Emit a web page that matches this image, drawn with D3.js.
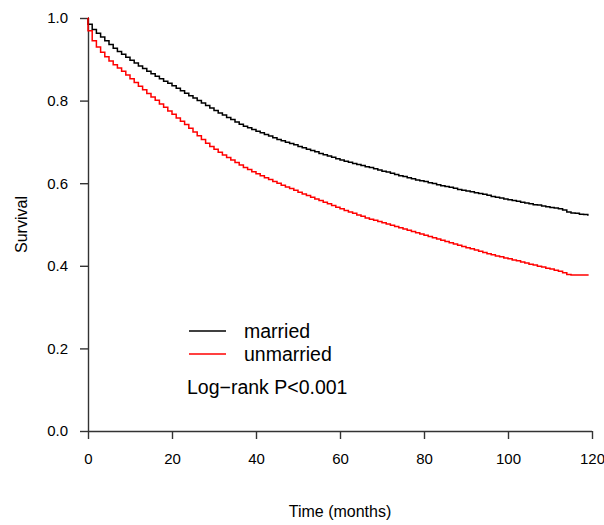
<!DOCTYPE html>
<html><head><meta charset="utf-8">
<script src="https://cdn.jsdelivr.net/npm/d3@7"></script>
<style>body{margin:0;background:#fff}svg{display:block}text{font-family:"Liberation Sans",Arial,sans-serif;fill:#000}</style>
</head><body>
<script>
// months 0..119, survival in interval [t, t+1)
const months = d3.range(0, 120);
const married = [0.985,0.972,0.963,0.954,0.945,0.936,0.927,0.919,0.912,0.905,
0.898,0.891,0.884,0.878,0.871,0.865,0.859,0.853,0.847,0.842,
0.836,0.830,0.824,0.818,0.812,0.806,0.800,0.794,0.788,0.782,
0.776,0.770,0.765,0.759,0.754,0.748,0.743,0.738,0.734,0.730,
0.726,0.722,0.718,0.714,0.710,0.706,0.703,0.699,0.696,0.693,
0.689,0.686,0.682,0.679,0.676,0.672,0.669,0.666,0.663,0.659,
0.656,0.653,0.651,0.648,0.645,0.643,0.640,0.638,0.635,0.632,
0.629,0.627,0.624,0.621,0.618,0.616,0.613,0.611,0.608,0.606,
0.604,0.601,0.599,0.596,0.594,0.592,0.590,0.588,0.585,0.583,
0.581,0.579,0.577,0.575,0.573,0.571,0.568,0.566,0.564,0.562,
0.560,0.558,0.556,0.554,0.552,0.550,0.548,0.547,0.545,0.543,
0.541,0.540,0.538,0.535,0.530,0.528,0.527,0.525,0.524,0.523];
const unmarried = [0.969,0.945,0.930,0.917,0.906,0.896,0.887,0.879,0.871,0.862,
0.853,0.844,0.835,0.826,0.817,0.809,0.801,0.792,0.784,0.775,
0.767,0.758,0.750,0.742,0.733,0.724,0.715,0.706,0.697,0.689,
0.682,0.675,0.668,0.662,0.656,0.650,0.644,0.638,0.633,0.628,
0.623,0.618,0.613,0.609,0.604,0.600,0.595,0.591,0.587,0.583,
0.578,0.574,0.570,0.566,0.562,0.558,0.554,0.550,0.546,0.542,
0.538,0.534,0.530,0.527,0.523,0.520,0.516,0.513,0.510,0.507,
0.504,0.501,0.498,0.495,0.492,0.489,0.486,0.483,0.480,0.477,
0.474,0.471,0.468,0.465,0.462,0.459,0.456,0.453,0.450,0.447,
0.444,0.441,0.438,0.435,0.432,0.429,0.427,0.424,0.422,0.419,
0.417,0.414,0.412,0.409,0.407,0.404,0.402,0.399,0.397,0.394,
0.392,0.389,0.387,0.383,0.379,0.378,0.378,0.378,0.378,0.378];
const groups = ["married", "unmarried"];
const colors = ["#000000", "#ff0000"];
const xTicks = [0, 20, 40, 60, 80, 100, 120];
const yTicks = [0.0, 0.2, 0.4, 0.6, 0.8, 1.0];
const pLabel = "Log\u2212rank P<0.001";

const W = 604, H = 525;
const svg = d3.select("body").append("svg").attr("width", W).attr("height", H);
const x = d3.scaleLinear().domain([0, 120]).range([88, 592]);
const y = d3.scaleLinear().domain([0, 1]).range([431, 18]);

const axisCol = "#333";
// y axis
const ya = svg.append("g").attr("transform", `translate(${x(0)},0)`)
  .call(d3.axisLeft(y).tickValues(yTicks).tickFormat(d3.format(".1f")).tickSize(8).tickPadding(12).tickSizeOuter(0));
// x axis
const xa = svg.append("g").attr("transform", `translate(0,${y(0)})`)
  .call(d3.axisBottom(x).tickValues(xTicks).tickSize(8).tickPadding(14).tickSizeOuter(0));
[ya, xa].forEach(g => {
  g.select(".domain").attr("stroke", axisCol).attr("stroke-width", 1.4);
  g.selectAll(".tick line").attr("stroke", axisCol).attr("stroke-width", 1.4);
  g.selectAll(".tick text").attr("font-size", 15).attr("fill", "#111")
   .style("font-family", '"Liberation Sans",Arial,sans-serif');
});
ya.select(".domain").attr("d", `M0.5,${y(0)}V${y(1)}`);
xa.select(".domain").attr("d", `M${x(0)},0.5H${x(120)}`);

// curves
const line = d3.line().x(d => x(d[0])).y(d => y(d[1])).curve(d3.curveStepAfter);
[married, unmarried].forEach((s, i) => {
  const pts = [[0, 1.0]].concat(months.map((m, k) => [m === 0 ? 0.001 : m, s[k]]));
  pts.push([119.2, s[s.length - 1]]);
  svg.append("path").datum(pts).attr("d", line)
    .attr("fill", "none").attr("stroke", colors[i]).attr("stroke-width", 1.5);
});

// axis titles
svg.append("text").attr("x", x(60)).attr("y", 517).attr("text-anchor", "middle")
  .attr("font-size", 16).text("Time (months)");
svg.append("text").attr("transform", `translate(27,${(y(0)+y(1))/2}) rotate(-90)`)
  .attr("text-anchor", "middle").attr("font-size", 16).text("Survival");

// legend
groups.forEach((g, i) => {
  const ly = 331 + i * 23;
  svg.append("line").attr("x1", 189).attr("x2", 226).attr("y1", ly).attr("y2", ly)
    .attr("stroke", colors[i]).attr("stroke-width", 1.5);
  svg.append("text").attr("x", 244).attr("y", ly + 7).attr("font-size", 19.5).text(g);
});
svg.append("text").attr("x", 187).attr("y", 394).attr("font-size", 19.5).text(pLabel);
</script>
</body></html>
